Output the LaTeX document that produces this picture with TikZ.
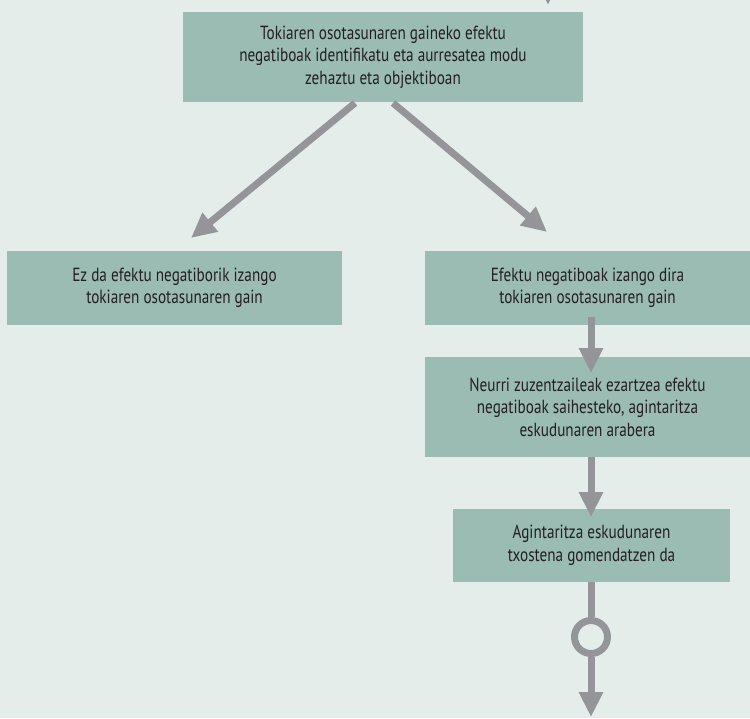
\documentclass[tikz,border=0pt]{standalone}
\usepackage{fontspec}
\setmainfont{PT Sans}[FakeStretch=0.8]
\usetikzlibrary{arrows.meta}
\definecolor{bgcol}{HTML}{E4EDEA}
\definecolor{boxcol}{HTML}{9ABCB2}
\definecolor{arrcol}{HTML}{939598}
\definecolor{txtcol}{HTML}{231F20}
\tikzset{
  box/.style={rectangle, fill=boxcol, draw=none, inner sep=0pt, align=center,
    text=txtcol, font=\fontsize{19}{22.5}\selectfont},
  conn/.style={draw=arrcol, line width=7pt, -{Triangle[width=23pt,length=25pt]}},
  plainconn/.style={draw=arrcol, line width=7pt},
}
\begin{document}
\begin{tikzpicture}[x=1pt,y=-1pt]
\fill[bgcol] (0,0) rectangle (750,718);
\useasboundingbox (0,0) rectangle (750,718);

\node[box, minimum width=400pt, minimum height=90pt] (top) at (383,57)
  {Tokiaren osotasunaren gaineko efektu\\negatiboak identifikatu eta aurresatea modu\\zehaztu eta objektiboan};
\node[box, minimum width=335pt, minimum height=74pt] (left) at (174.5,288)
  {Ez da efektu negatiborik izango\\tokiaren osotasunaren gain};
\node[box, minimum width=325pt, minimum height=74pt] (right) at (587.5,288)
  {Efektu negatiboak izango dira\\tokiaren osotasunaren gain};
\node[box, minimum width=325pt, minimum height=100pt] (neurri) at (587.5,407)
  {Neurri zuzentzaileak ezartzea efektu\\negatiboak saihesteko, agintaritza\\eskudunaren arabera};
\node[box, minimum width=277pt, minimum height=73pt] (agint) at (591.5,545.5)
  {Agintaritza eskudunaren\\txostena gomendatzen da};

\coordinate (tin) at (548,-30);
\coordinate (tout) at (548,5);
\coordinate (ls) at (355,103);
\coordinate (le) at (191,238);
\coordinate (rs) at (393,103);
\coordinate (re) at (547,232);
\coordinate (v1s) at (591,317);
\coordinate (v1e) at (591,373);
\coordinate (v2s) at (591,457);
\coordinate (v2e) at (591,517);
\coordinate (v3s) at (591,582);
\coordinate (bend) at (591,717);

\draw[conn] (tin) -- (tout);
\draw[conn] (ls) -- (le);
\draw[conn] (rs) -- (re);
\draw[conn] (v1s) -- (v1e);
\draw[conn] (v2s) -- (v2e);

\node[circle, draw=arrcol, line width=7pt, fill=bgcol, minimum size=33pt, inner sep=0pt] (ring) at (591,637) {};
\draw[plainconn] (v3s) -- (ring.north);
\draw[conn] (ring.south) -- (bend);
\end{tikzpicture}
\end{document}
